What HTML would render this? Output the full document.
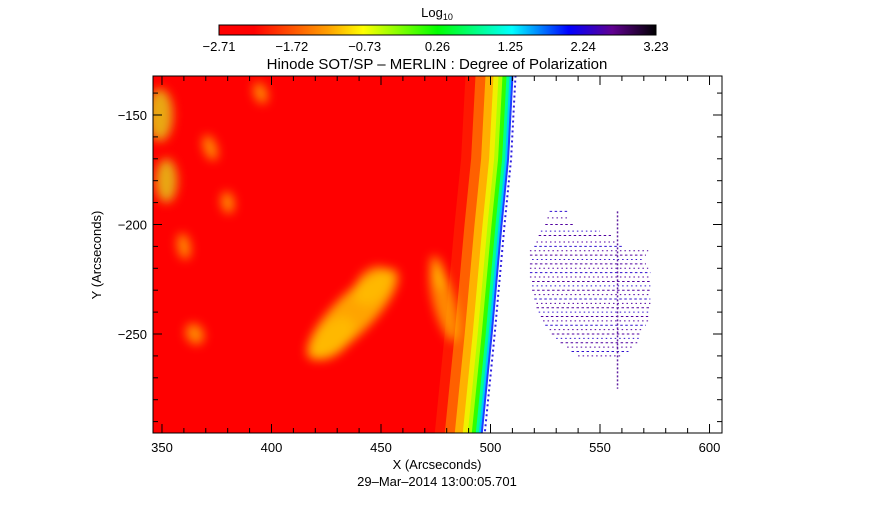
<!DOCTYPE html>
<html><head><meta charset="utf-8"><style>
body{margin:0;background:#fff}
svg text{font-family:"Liberation Sans",sans-serif;fill:#000}
</style></head><body>
<svg id="c" width="875" height="512" viewBox="0 0 875 512">
<defs>
<linearGradient id="cb" x1="0" x2="1">
<stop offset="0" stop-color="#ff0000"/><stop offset="0.08" stop-color="#ff0000"/>
<stop offset="0.25" stop-color="#ffa000"/><stop offset="0.33" stop-color="#ffff00"/>
<stop offset="0.5" stop-color="#00ff00"/><stop offset="0.67" stop-color="#00ffff"/>
<stop offset="0.8" stop-color="#0000ff"/><stop offset="0.9" stop-color="#600090"/>
<stop offset="1" stop-color="#000000"/></linearGradient>
<clipPath id="pc"><rect x="153" y="76" width="569" height="357"/></clipPath>
<filter id="bl" x="-50%" y="-50%" width="200%" height="200%"><feGaussianBlur stdDeviation="5"/></filter>
</defs>
<text x="437" y="17" font-size="13" text-anchor="middle">Log<tspan font-size="9" dy="3">10</tspan></text>
<rect x="219" y="25" width="437" height="10" fill="url(#cb)" stroke="#000" stroke-width="1"/>
<g id="cbt"></g>
<text x="437" y="69" font-size="15" text-anchor="middle">Hinode SOT/SP – MERLIN : Degree of Polarization</text>
<g clip-path="url(#pc)" id="img"></g>
<rect x="153" y="76" width="569" height="357" fill="none" stroke="#000" stroke-width="1"/>
<g id="ax"></g>
<text x="437" y="469" font-size="13" text-anchor="middle">X (Arcseconds)</text>
<text x="437" y="486" font-size="13" text-anchor="middle">29–Mar–2014 13:00:05.701</text>
<text x="0" y="0" font-size="13" text-anchor="middle" transform="translate(101,255) rotate(-90)">Y (Arcseconds)</text>
</svg>
<script>
const cbLabels=["-2.71","-1.72","-0.73","0.26","1.25","2.24","3.23"];
const xTicks=[350,400,450,500,550,600];
const yTicks=[-150,-200,-250];
const limbY=[-132,-170,-200,-250,-295];
const limbX=[510.5,508.5,505.5,501,496.5];
const blobX=[349,352,437,428,446,479,476,372,365,395,360,380];
const blobY=[-150,-180,-241,-252,-228,-236,-222,-165,-250,-140,-210,-190];
const blobRx=[6,5,28,12,10,5,3,3,4,3,3,3];
const blobRy=[12,10,9,7,7,18,8,6,5,5,6,5];
const blobRot=[0,0,-45,-45,-50,-15,-15,-20,-30,-20,-10,-10];
const rowY=[-194,-197,-200,-203,-205,-208,-210,-212,-214,-216,-218,-220,-222,-224,-226,-228,-230,-232,-234,-236,-238,-240,-242,-244,-246,-248,-250,-252,-254,-256,-258,-260];
const rowX0=[527,526,525,523,522,521,520,518,518,519,518,518,518,518,519,519,519,520,520,521,521,522,523,524,525,527,528,530,532,535,537,540];
const rowX1=[535,536,538,550,555,558,560,572,571,570,571,572,573,573,573,573,573,573,573,573,573,573,572,572,571,570,569,568,567,565,563,560];
const NS="http://www.w3.org/2000/svg";
const x0=153,x1=722,y0=76,y1=433,xmin=345.9,xmax=605.7,ymax=-132.2,ymin=-295.2;
const sx=v=>x0+(v-xmin)/(xmax-xmin)*(x1-x0);
const sy=v=>y0+(ymax-v)/(ymax-ymin)*(y1-y0);
function mk(t,a,p){const e=document.createElementNS(NS,t);for(const k in a)e.setAttribute(k,a[k]);p.appendChild(e);return e;}
const cbt=document.getElementById('cbt');
cbLabels.forEach((l,i)=>{const x=219+i*437/6;
const t=mk('text',{x:x,y:51,'font-size':13,'text-anchor':'middle'},cbt);t.textContent=l.replace('-','−');

});
const ax=document.getElementById('ax');
for(let v=350;v<=600;v+=10){const x=sx(v),L=v%50==0?9:5;
mk('line',{x1:x,x2:x,y1:y1,y2:y1-L,stroke:'#000'},ax);mk('line',{x1:x,x2:x,y1:y0,y2:y0+L,stroke:'#000'},ax);}
xTicks.forEach(v=>{const t=mk('text',{x:sx(v),y:452,'font-size':13,'text-anchor':'middle'},ax);t.textContent=v;

});
for(let v=-290;v<=-140;v+=10){const y=sy(v),L=v%50==0?9:5;
mk('line',{x1:x0,x2:x0+L,y1:y,y2:y,stroke:'#000'},ax);mk('line',{x1:x1,x2:x1-L,y1:y,y2:y,stroke:'#000'},ax);}
yTicks.forEach(v=>{const t=mk('text',{x:147,y:sy(v)+5,'font-size':13,'text-anchor':'end'},ax);t.textContent=String(v).replace('-','−');

});
const img=document.getElementById('img');
function limbPoly(off){let p=[];for(let i=0;i<limbX.length;i++)p.push((sx(limbX[i])+off)+','+sy(limbY[i]));
p.push('100,'+sy(limbY[limbY.length-1]));p.push('100,'+sy(limbY[0]));return p.join(' ');}
function limbLine(off){let p=[];for(let i=0;i<limbX.length;i++)p.push((sx(limbX[i])+off)+','+sy(limbY[i]));return p.join(' ');}
const g=mk('g',{},img);
[[0,'#2040ff'],[-2,'#00c8ff'],[-4,'#00ff90'],[-7,'#30ff00'],[-11,'#b0ff00'],[-15,'#f0f000'],[-20,'#ffb000'],[-28,'#ff6000'],[-38,'#ff1800'],[-48,'#ff0000']].forEach(b=>mk('polygon',{points:limbPoly(b[0]),fill:b[1]},g));
mk('polyline',{points:limbLine(2),fill:'none',stroke:'#3020e0','stroke-width':2,'stroke-dasharray':'2 3'},g);
const bg=mk('g',{filter:'url(#bl)'},img);
blobX.forEach((v,i)=>{const cx=sx(v),cy=sy(blobY[i]);
mk('ellipse',{cx:cx,cy:cy,rx:blobRx[i]*2.19,ry:blobRy[i]*2.19,fill:i<2?'#e0f020':'#ffc000',opacity:i==2?0.85:0.7,transform:'rotate('+blobRot[i]+' '+cx+' '+cy+')'},bg);});
const sg=mk('g',{},img);
rowY.forEach((y,i)=>mk('line',{x1:sx(rowX0[i]),x2:sx(rowX1[i]),y1:sy(y),y2:sy(y),stroke:i%3?'#5000a0':'#3010d0','stroke-width':1,'stroke-dasharray':(i%2?'1.5 3':'2.5 2.5')},sg));
mk('line',{x1:sx(558),x2:sx(558),y1:sy(-194),y2:sy(-275),stroke:'#6020a0','stroke-width':1.5,'stroke-dasharray':'2 2'},sg);
</script>
</body></html>
